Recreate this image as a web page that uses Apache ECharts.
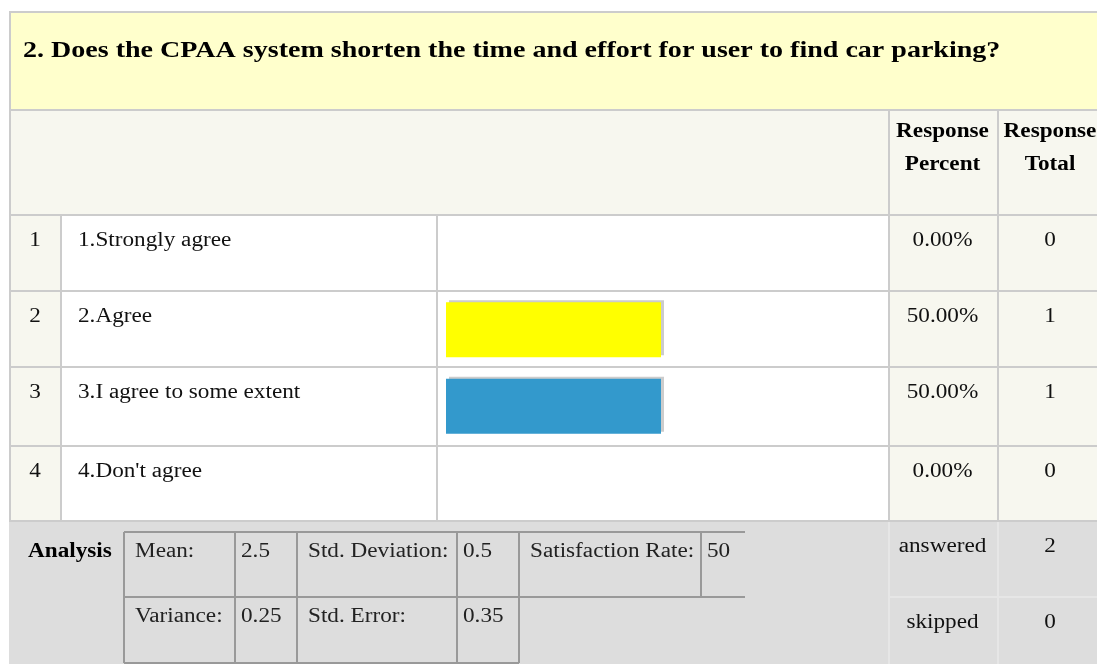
<!DOCTYPE html>
<html><head><meta charset="utf-8">
<script src="https://cdn.jsdelivr.net/npm/echarts@6/dist/echarts.min.js"></script>
<style>html,body{margin:0;padding:0;background:#fff}#c{width:1097px;height:664px}</style>
</head><body><div id="c"></div>
<script>
// ---- data ----
const questionTitle = '2. Does the CPAA system shorten the time and effort for user to find car parking?';
const rowNumbers = ['1', '2', '3', '4'];
const answerOptions = ['1.Strongly agree', '2.Agree', '3.I agree to some extent', "4.Don't agree"];
const responsePercent = [0, 50, 50, 0];
const responseTotal = [0, 1, 1, 0];
const barColors = ['#ff9900', '#ffff00', '#3399cc', '#99cc33'];
const headerLabels = [['Response', 'Percent'], ['Response', 'Total']];
const analysisTitle = 'Analysis';
const statsRow1 = [['Mean:', '2.5'], ['Std. Deviation:', '0.5'], ['Satisfaction Rate:', '50']];
const statsRow2 = [['Variance:', '0.25'], ['Std. Error:', '0.35']];
const summaryLabels = ['answered', 'skipped'];
const summaryValues = [2, 0];

// ---- layout ----
const SX = 1.16;
const FONT = '"Liberation Serif", "Times New Roman", serif';
const colX = [10, 61, 437, 889, 998, 1110];
const rowY = [215, 291, 367, 446, 521];
const colFill = ['#f7f7ef', '#ffffff', '#ffffff', '#f7f7ef', '#f7f7ef'];
const GRID = '#cccccc';
const g = [];
function rect(x, y, w, h, fill, stroke, lw, z) {
  g.push({type: 'rect', z: z || 0, silent: true, shape: {x, y, width: w, height: h},
    style: {fill: fill, stroke: stroke || null, lineWidth: lw || 0}});
}
function line(x1, y1, x2, y2, color, lw) {
  g.push({type: 'line', z: 1, silent: true, shape: {x1, y1, x2, y2}, style: {stroke: color, lineWidth: lw || 2}});
}
function text(s, x, baseline, opt) {
  opt = opt || {};
  const size = opt.size || 20;
  g.push({type: 'text', z: 10, silent: true, x: x, y: baseline - 0.305 * size, scaleX: opt.sx || SX,
    style: {text: String(s), x: 0, y: 0, font: (opt.bold ? 'bold ' : '') + size + 'px ' + FONT,
      fill: opt.color || '#111111', textAlign: opt.align || 'left', textVerticalAlign: 'middle'}});
}

// title box
rect(10, 12, 1100, 98, '#ffffcc', GRID, 2);
text(questionTitle, 23, 58, {size: 24, bold: true, color: '#000', sx: 1.168});
// header row
rect(10, 110, 1100, 105, '#f7f7ef', GRID, 2);
line(889, 110, 889, 215, GRID, 2);
line(998, 110, 998, 215, GRID, 2);
const pctCenter = (colX[3] + colX[4]) / 2 - 1;
const totCenter = 1050;
text(headerLabels[0][0], pctCenter, 138, {bold: true, align: 'center', color: '#000'});
text(headerLabels[0][1], pctCenter, 171, {bold: true, align: 'center', color: '#000'});
text(headerLabels[1][0], totCenter, 138, {bold: true, align: 'center', color: '#000'});
text(headerLabels[1][1], totCenter, 171, {bold: true, align: 'center', color: '#000'});
// data rows
for (let i = 0; i < answerOptions.length; i++) {
  for (let c = 0; c < colFill.length; c++) {
    rect(colX[c], rowY[i], colX[c + 1] - colX[c], rowY[i + 1] - rowY[i], colFill[c], GRID, 2);
  }
  const bl = rowY[i] + 32;
  text(rowNumbers[i], 35, bl, {align: 'center'});
  text(answerOptions[i], 78, bl);
  text(responsePercent[i].toFixed(2) + '%', pctCenter, bl, {align: 'center'});
  text(responseTotal[i], totCenter, bl, {align: 'center'});
}
// analysis block
rect(9, 522, 1100, 150, '#dddddd', null, 0);
line(10, 521, 1110, 521, GRID, 2);
line(889, 522, 889, 664, '#e6e6e6', 2);
line(998, 522, 998, 664, '#e6e6e6', 2);
line(889, 597, 1110, 597, '#e6e6e6', 2);
text(analysisTitle, 28, 558, {bold: true, color: '#000'});
const IN = '#999999';
const innerX1 = [124, 235, 297, 457, 519, 701, 745];
const innerX2 = [124, 235, 297, 457, 519];
line(124, 532, 745, 532, IN, 2);
line(124, 597, 745, 597, IN, 2);
line(124, 663, 519, 663, IN, 2);
for (let k = 0; k < innerX2.length; k++) line(innerX2[k], 532, innerX2[k], 663, IN, 2);
line(701, 532, 701, 597, IN, 2);
for (let k = 0; k < statsRow1.length; k++) {
  text(statsRow1[k][0], innerX1[2 * k] + 11, 558, {color: '#222'});
  text(statsRow1[k][1], innerX1[2 * k + 1] + 6, 558, {color: '#222'});
}
for (let k = 0; k < statsRow2.length; k++) {
  text(statsRow2[k][0], innerX2[2 * k] + 11, 623, {color: '#222'});
  text(statsRow2[k][1], innerX2[2 * k + 1] + 6, 623, {color: '#222'});
}
text(summaryLabels[0], pctCenter, 553, {align: 'center'});
text(summaryValues[0], totCenter, 553, {align: 'center'});
text(summaryLabels[1], pctCenter, 629, {align: 'center'});
text(summaryValues[1], totCenter, 629, {align: 'center'});

const chart = echarts.init(document.getElementById('c'), null, {renderer: 'canvas'});
chart.setOption({
  animation: false,
  backgroundColor: '#ffffff',
  graphic: {elements: g},
  grid: {left: 446, top: 215, width: 430, height: 306, containLabel: false},
  xAxis: {type: 'value', min: 0, max: 100, show: false},
  yAxis: {type: 'category', data: answerOptions, inverse: true, show: false},
  series: [{
    type: 'bar',
    z: 5,
    barWidth: 55,
    data: responsePercent.map((v, i) => ({value: v, itemStyle: {color: barColors[i]}})),
    itemStyle: {shadowColor: '#cccccc', shadowBlur: 0, shadowOffsetX: 3, shadowOffsetY: -2},
    emphasis: {disabled: true}
  }]
});
</script></body></html>
